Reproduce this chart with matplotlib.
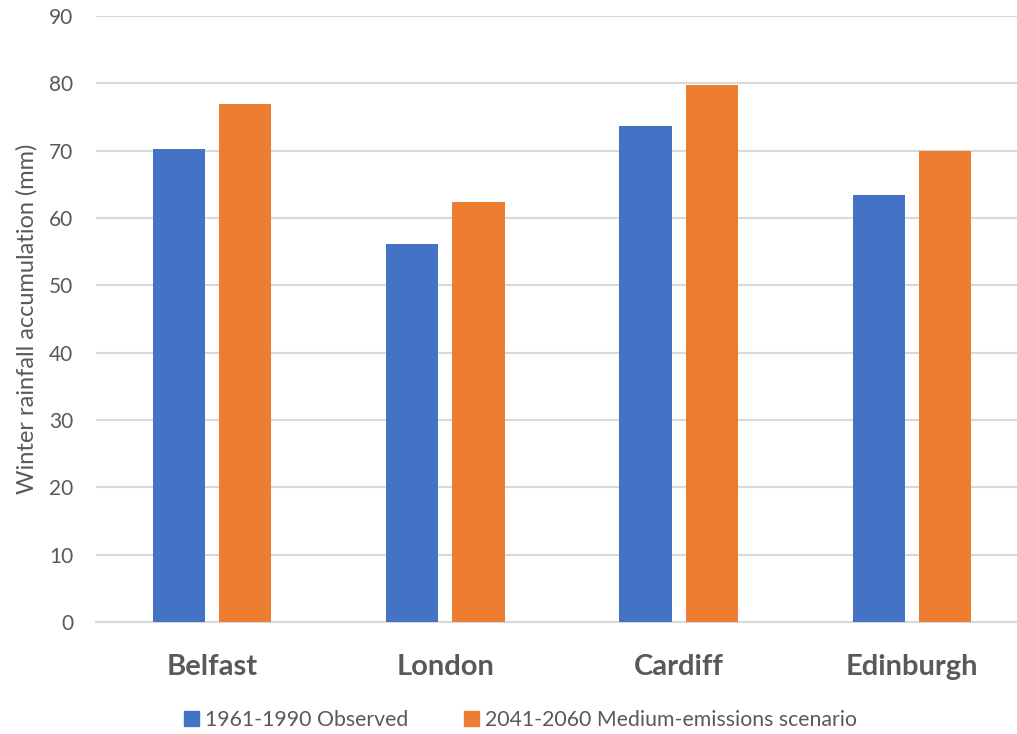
import matplotlib

matplotlib.use("Agg")
import matplotlib.pyplot as plt
import numpy as np
from matplotlib.patches import Patch

cities = ["Belfast", "London", "Cardiff", "Edinburgh"]
observed = [70.3, 56.1, 73.6, 63.4]
scenario = [76.9, 62.4, 79.8, 70.0]
series_names = ["1961-1990 Observed", "2041-2060 Medium-emissions scenario"]
yticks = [0, 10, 20, 30, 40, 50, 60, 70, 80, 90]

BLUE = "#4472C4"
ORANGE = "#ED7D31"
TEXT = "#595959"
GRID = "#D9D9D9"

plt.rcParams["font.family"] = ["Lato", "DejaVu Sans"]

fig = plt.figure(figsize=(10.17, 7.34), dpi=100)
ax = fig.add_axes([95.5 / 1017, 112 / 734, 933 / 1017, 606 / 734])

x = np.arange(len(cities))
width = 0.223
offset = 0.142
ax.bar(x - offset, observed, width, color=BLUE, zorder=3)
ax.bar(x + offset, scenario, width, color=ORANGE, zorder=3)

ax.set_xlim(-0.5, len(cities) - 0.5)
ax.set_ylim(0, 90)
ax.set_yticks(yticks)
ax.yaxis.grid(True, color=GRID, linewidth=1.5, zorder=0)
for s in ["top", "right", "left"]:
    ax.spines[s].set_visible(False)
ax.spines["bottom"].set_color(GRID)
ax.spines["bottom"].set_linewidth(1.5)

ax.tick_params(axis="y", length=0, pad=16, labelsize=15, labelcolor=TEXT)
ax.set_xticks(x)
ax.set_xticklabels(cities, fontsize=21, fontweight="bold", color=TEXT)
ax.tick_params(axis="x", length=0, pad=23)

ax.set_ylabel("Winter rainfall accumulation (mm)", fontsize=17, color=TEXT)
ax.yaxis.set_label_coords(-0.0625, 0.5)

handles = [Patch(color=BLUE), Patch(color=ORANGE)]
fig.legend(
    handles,
    series_names,
    loc="center",
    bbox_to_anchor=(0.512, 14 / 734),
    ncol=2,
    frameon=False,
    fontsize=15.3,
    labelcolor=TEXT,
    handlelength=0.7,
    handleheight=0.7,
    handletextpad=0.3,
    columnspacing=2.6,
)

fig.savefig("out.png", dpi=100)
